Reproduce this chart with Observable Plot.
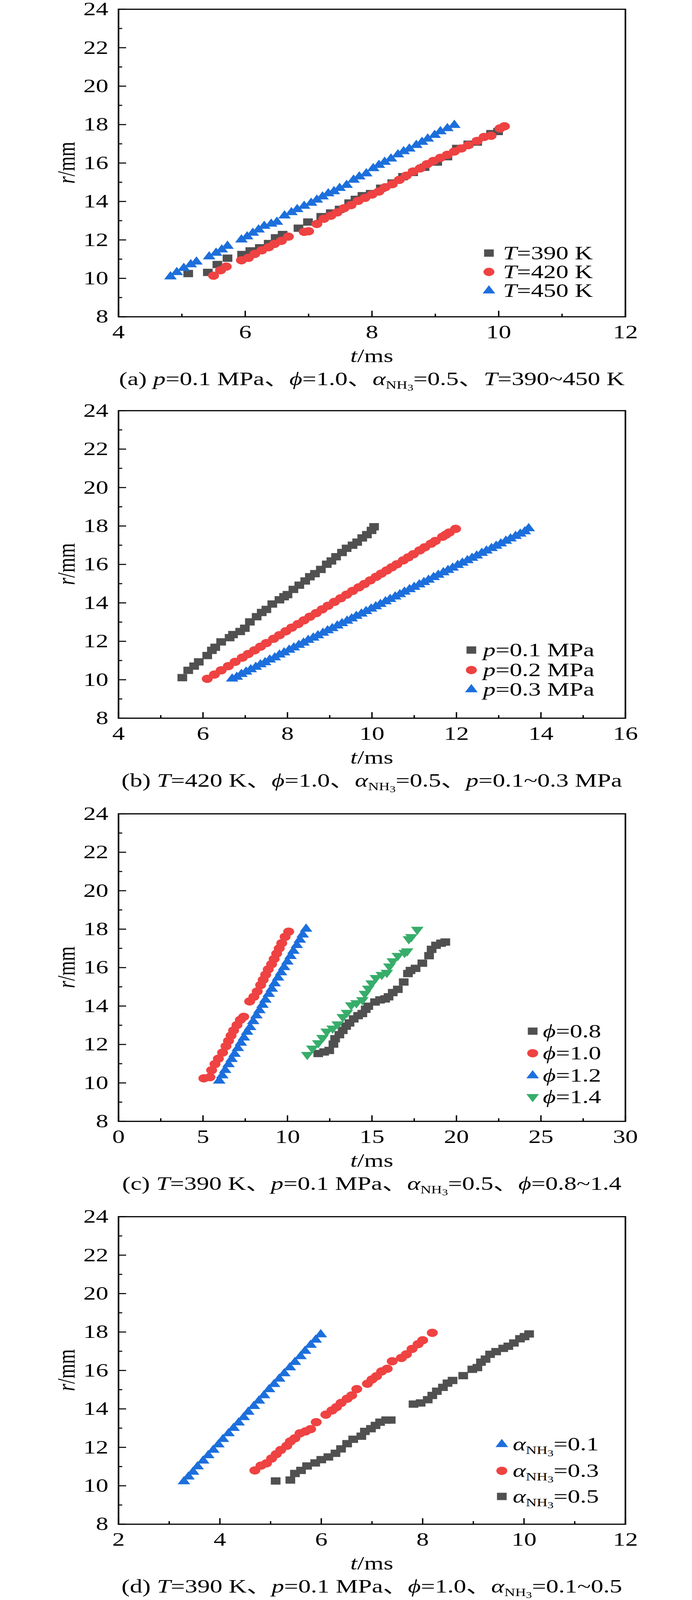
<!DOCTYPE html>
<html><head><meta charset="utf-8">
<script src="https://cdn.jsdelivr.net/npm/d3@7"></script>
<script src="https://cdn.jsdelivr.net/npm/@observablehq/plot@0.6"></script>
<style>
html,body{margin:0;padding:0;background:#fff;overflow:hidden}
body{font-family:"Liberation Serif","Times New Roman","Noto Sans CJK SC",serif;color:#000}
#stage{position:absolute;left:0;top:0;width:1772px;height:5437px;transform-origin:0 0;background:#fff}
.panel{position:absolute;left:0;width:1772px;height:1330px;overflow:visible}
.panel svg.plot{position:absolute;left:0;top:0}
.lbl{position:absolute;font-size:64px;line-height:80px;white-space:nowrap}
.sub1{font-size:0.6em;position:relative;top:0.3em}
.sub2{font-size:0.8em;position:relative;top:0.25em}
.mk{position:absolute;width:40px;height:40px}
</style></head><body><div id="stage"></div><script>
// ---------- axes ----------
const yMajor=[8,10,12,14,16,18,20,22,24];
const yMinor=[9,11,13,15,17,19,21,23];
const aXMajor=[4,6,8,10,12], aXMinor=[5,7,9,11];
const bXMajor=[4,6,8,10,12,14,16], bXMinor=[5,7,9,11,13,15];
const cXMajor=[0,5,10,15,20,25,30], cXMinor=[2.5,7.5,12.5,17.5,22.5,27.5];
const dXMajor=[2,4,6,8,10,12], dXMinor=[3,5,7,9,11];

// ---------- data: [t (ms), r (mm)] ----------
// (a) p=0.1 MPa, phi=1.0, aNH3=0.5
const aT390=[[5.10,10.25],[5.41,10.31],[5.56,10.72],[5.72,11.05],[5.95,11.24],[6.08,11.43],[6.23,11.59],[6.37,11.81],[6.48,12.11],[6.59,12.28],[6.84,12.61],[6.99,12.93],[7.20,13.21],[7.35,13.40],[7.49,13.59],[7.64,13.92],[7.74,14.11],[7.85,14.30],[7.98,14.41],[8.14,14.69],[8.32,14.96],[8.49,15.29],[8.65,15.51],[8.83,15.78],[9.03,16.05],[9.19,16.33],[9.34,16.76],[9.52,16.98],[9.66,17.09],[9.88,17.53],[9.99,17.64]];
const aT420=[[5.50,10.14],[5.61,10.42],[5.70,10.61],[5.94,10.94],[6.05,11.07],[6.15,11.27],[6.26,11.46],[6.37,11.62],[6.46,11.79],[6.57,11.95],[6.68,12.17],[6.93,12.42],[7.00,12.45],[7.13,12.83],[7.24,13.10],[7.35,13.26],[7.45,13.43],[7.56,13.65],[7.67,13.81],[7.78,14.03],[7.89,14.19],[8.00,14.36],[8.11,14.52],[8.21,14.74],[8.32,14.90],[8.43,15.12],[8.54,15.34],[8.65,15.56],[8.76,15.72],[8.87,15.94],[8.97,16.11],[9.08,16.27],[9.19,16.43],[9.30,16.60],[9.41,16.76],[9.52,16.93],[9.66,17.15],[9.77,17.36],[9.88,17.42],[10.02,17.80],[10.09,17.91]];
const aT450=[[4.82,10.09],[4.92,10.31],[5.03,10.53],[5.14,10.72],[5.23,10.86],[5.43,11.13],[5.54,11.32],[5.63,11.49],[5.72,11.68],[5.94,12.01],[6.03,12.17],[6.12,12.36],[6.21,12.53],[6.30,12.72],[6.41,12.83],[6.50,12.93],[6.62,13.26],[6.73,13.43],[6.82,13.59],[6.93,13.76],[7.04,13.92],[7.13,14.08],[7.22,14.25],[7.31,14.41],[7.40,14.52],[7.49,14.69],[7.60,14.85],[7.71,15.12],[7.80,15.29],[7.91,15.45],[8.02,15.72],[8.11,15.89],[8.20,16.05],[8.30,16.22],[8.41,16.44],[8.50,16.60],[8.59,16.74],[8.70,16.93],[8.79,17.09],[8.88,17.26],[8.99,17.45],[9.08,17.64],[9.19,17.80],[9.30,17.97]];
// (b) T=420 K, phi=1.0, aNH3=0.5
const bP01=[[5.51,10.11],[5.65,10.49],[5.79,10.71],[5.90,10.93],[6.10,11.26],[6.21,11.53],[6.29,11.69],[6.43,11.97],[6.63,12.19],[6.71,12.35],[6.88,12.51],[6.99,12.68],[7.11,13.01],[7.27,13.28],[7.39,13.50],[7.50,13.66],[7.64,13.94],[7.81,14.16],[7.92,14.32],[8.00,14.43],[8.14,14.70],[8.28,14.92],[8.42,15.14],[8.53,15.36],[8.65,15.52],[8.79,15.74],[8.93,16.01],[9.04,16.18],[9.15,16.40],[9.29,16.62],[9.40,16.84],[9.54,17.00],[9.65,17.16],[9.77,17.38],[9.88,17.55],[9.99,17.77],[10.05,17.96]];
const bP02=[[6.10,10.05],[6.27,10.27],[6.43,10.49],[6.60,10.71],[6.76,10.93],[6.93,11.15],[7.07,11.34],[7.22,11.53],[7.36,11.72],[7.50,11.91],[7.67,12.13],[7.81,12.32],[7.96,12.52],[8.10,12.71],[8.25,12.90],[8.39,13.09],[8.53,13.28],[8.68,13.47],[8.82,13.66],[8.96,13.85],[9.11,14.05],[9.26,14.24],[9.40,14.43],[9.54,14.62],[9.69,14.81],[9.82,14.98],[9.96,15.17],[10.10,15.36],[10.22,15.52],[10.35,15.69],[10.47,15.85],[10.59,16.01],[10.74,16.21],[10.86,16.37],[10.98,16.53],[11.13,16.73],[11.25,16.89],[11.40,17.08],[11.50,17.22],[11.67,17.44],[11.75,17.55],[11.83,17.66],[11.98,17.85]];
const bP03=[[6.69,10.05],[6.80,10.14],[6.91,10.29],[7.02,10.41],[7.13,10.53],[7.25,10.66],[7.36,10.79],[7.47,10.90],[7.58,11.04],[7.70,11.15],[7.81,11.30],[7.92,11.41],[8.04,11.55],[8.15,11.67],[8.27,11.80],[8.38,11.92],[8.49,12.06],[8.61,12.18],[8.72,12.30],[8.84,12.43],[8.95,12.56],[9.06,12.67],[9.18,12.81],[9.29,12.93],[9.41,13.06],[9.52,13.18],[9.63,13.31],[9.75,13.43],[9.86,13.56],[9.98,13.69],[10.09,13.81],[10.20,13.93],[10.32,14.07],[10.43,14.19],[10.55,14.32],[10.66,14.44],[10.77,14.57],[10.89,14.70],[11.00,14.82],[11.12,14.95],[11.23,15.07],[11.34,15.19],[11.46,15.33],[11.57,15.45],[11.69,15.58],[11.80,15.70],[11.91,15.82],[12.03,15.96],[12.14,16.08],[12.26,16.21],[12.37,16.33],[12.48,16.45],[12.60,16.59],[12.71,16.71],[12.83,16.84],[12.94,16.96],[13.05,17.08],[13.17,17.22],[13.28,17.34],[13.40,17.47],[13.51,17.59],[13.62,17.71],[13.71,17.87]];
// (c) T=390 K, p=0.1 MPa, aNH3=0.5
const cPhi08=[[11.82,11.53],[12.17,11.61],[12.47,11.69],[12.72,12.02],[12.82,12.30],[13.07,12.51],[13.27,12.73],[13.47,12.95],[13.67,13.12],[13.92,13.33],[14.18,13.50],[14.43,13.61],[14.63,13.83],[14.78,13.99],[15.18,14.21],[15.48,14.32],[15.78,14.37],[15.98,14.48],[16.23,14.70],[16.53,14.87],[16.88,15.25],[17.13,15.69],[17.28,15.85],[17.58,15.96],[17.98,16.23],[18.38,16.62],[18.53,16.95],[18.79,17.16],[19.09,17.27],[19.34,17.33]];
const cPhi10=[[5.05,10.24],[5.41,10.30],[5.51,10.66],[5.71,10.98],[5.91,11.26],[6.16,11.58],[6.36,11.91],[6.51,12.19],[6.66,12.46],[6.81,12.73],[7.01,13.01],[7.21,13.28],[7.41,13.44],[7.76,14.24],[8.01,14.48],[8.21,14.76],[8.41,15.09],[8.56,15.36],[8.71,15.63],[8.86,15.91],[9.06,16.18],[9.21,16.45],[9.36,16.73],[9.51,17.00],[9.66,17.27],[9.86,17.60],[10.07,17.87]];
const cPhi12=[[5.96,10.11],[6.14,10.38],[6.31,10.66],[6.51,10.96],[6.69,11.23],[6.87,11.50],[7.06,11.80],[7.24,12.08],[7.42,12.35],[7.61,12.65],[7.79,12.89],[7.97,13.20],[8.16,13.50],[8.34,13.77],[8.52,14.05],[8.69,14.32],[8.89,14.62],[9.07,14.89],[9.24,15.17],[9.44,15.47],[9.62,15.74],[9.80,16.01],[9.99,16.30],[10.18,16.59],[10.35,16.86],[10.55,17.16],[10.73,17.44],[10.90,17.71],[11.10,18.01]];
const cPhi14=[[11.17,11.47],[11.47,11.80],[11.82,12.08],[12.07,12.35],[12.32,12.68],[12.67,12.84],[12.97,13.06],[13.27,13.44],[13.52,13.66],[13.77,14.05],[14.08,14.16],[14.43,14.32],[14.58,14.65],[14.78,14.92],[14.98,15.19],[15.23,15.47],[15.58,15.63],[15.88,15.74],[16.03,16.07],[16.23,16.34],[16.53,16.62],[16.93,16.78],[17.08,16.86],[17.18,17.49],[17.33,17.60],[17.68,17.98]];
// (d) T=390 K, p=0.1 MPa, phi=1.0
const dA01=[[3.29,10.22],[3.38,10.47],[3.47,10.72],[3.56,11.00],[3.67,11.30],[3.77,11.58],[3.87,11.86],[3.97,12.14],[4.06,12.42],[4.17,12.72],[4.27,13.00],[4.37,13.28],[4.47,13.56],[4.56,13.84],[4.67,14.14],[4.77,14.42],[4.87,14.70],[4.97,15.01],[5.07,15.28],[5.17,15.56],[5.27,15.84],[5.38,16.15],[5.48,16.43],[5.59,16.73],[5.68,17.01],[5.79,17.32],[5.89,17.59],[5.99,17.87]];
const dA03=[[4.69,10.80],[4.81,11.05],[4.92,11.17],[5.02,11.42],[5.11,11.64],[5.20,11.86],[5.32,12.08],[5.39,12.31],[5.48,12.47],[5.58,12.73],[5.69,12.83],[5.79,12.95],[5.90,13.31],[6.09,13.70],[6.21,13.92],[6.30,14.09],[6.39,14.31],[6.51,14.53],[6.60,14.70],[6.70,15.03],[6.91,15.31],[7.00,15.53],[7.09,15.70],[7.19,15.95],[7.30,16.09],[7.40,16.48],[7.58,16.65],[7.68,16.84],[7.79,17.12],[7.91,17.37],[8.00,17.57],[8.19,17.96]];
const dA05=[[5.10,10.25],[5.39,10.30],[5.48,10.64],[5.60,10.80],[5.72,11.03],[5.88,11.19],[6.00,11.36],[6.14,11.50],[6.28,11.69],[6.39,11.92],[6.51,12.19],[6.63,12.42],[6.79,12.58],[6.86,12.83],[6.98,12.97],[7.07,13.14],[7.16,13.31],[7.28,13.42],[7.37,13.42],[7.82,14.25],[7.96,14.31],[8.10,14.48],[8.19,14.70],[8.28,14.92],[8.40,15.12],[8.49,15.34],[8.59,15.48],[8.80,15.73],[8.98,16.06],[9.08,16.15],[9.15,16.43],[9.24,16.59],[9.33,16.84],[9.45,16.98],[9.59,17.15],[9.69,17.26],[9.80,17.43],[9.92,17.65],[10.01,17.76],[10.10,17.90]];

// ---------- style ----------
const GRAY="#505050", RED="#EF4242", BLUE="#1C6FDC", GREEN="#37AD6B";
const triangleDown={draw(ctx,size){const y=Math.sqrt(size/(Math.sqrt(3)*3));ctx.moveTo(0,2*y);ctx.lineTo(-Math.sqrt(3)*y,-y);ctx.lineTo(Math.sqrt(3)*y,-y);ctx.closePath();}};
const SYM={square:{sym:"square",d3:d3.symbolSquare,r:14},circle:{sym:"circle",d3:d3.symbolCircle,r:14},triangle:{sym:"triangle",d3:d3.symbolTriangle,r:12},down:{sym:triangleDown,d3:triangleDown,r:12}};
const aNH=(v)=>`<i>α</i><span class="sub1">NH<span class="sub2">3</span></span>=${v}`;

const panels=[
 {top:0,xDomain:[4,12],xMajor:aXMajor,xMinor:aXMinor,
  series:[{data:aT390,s:"square",c:GRAY},{data:aT420,s:"circle",c:RED},{data:aT450,s:"triangle",c:BLUE}],
  legend:{mx:1252,tx:1288,rows:[860,924,988],items:[["square",GRAY,"<i>T</i>=390 K"],["circle",RED,"<i>T</i>=420 K"],["triangle",BLUE,"<i>T</i>=450 K"]]},
  caption:`(a) <i>p</i>=0.1 MPa、<i>ϕ</i>=1.0、${aNH("0.5")}、<i>T</i>=390~450 K`},
 {top:1364,xDomain:[4,16],xMajor:bXMajor,xMinor:bXMinor,
  series:[{data:bP01,s:"square",c:GRAY},{data:bP02,s:"circle",c:RED},{data:bP03,s:"triangle",c:BLUE}],
  legend:{mx:1207,tx:1237,rows:[845,913,979],items:[["square",GRAY,"<i>p</i>=0.1 MPa"],["circle",RED,"<i>p</i>=0.2 MPa"],["triangle",BLUE,"<i>p</i>=0.3 MPa"]]},
  caption:`(b) <i>T</i>=420 K、<i>ϕ</i>=1.0、${aNH("0.5")}、<i>p</i>=0.1~0.3 MPa`},
 {top:2734,xDomain:[0,30],xMajor:cXMajor,xMinor:cXMinor,
  series:[{data:cPhi08,s:"square",c:GRAY},{data:cPhi10,s:"circle",c:RED},{data:cPhi12,s:"triangle",c:BLUE},{data:cPhi14,s:"down",c:GREEN}],
  legend:{mx:1364,tx:1390,rows:[770,845,921,993],items:[["square",GRAY,"<i>ϕ</i>=0.8"],["circle",RED,"<i>ϕ</i>=1.0"],["triangle",BLUE,"<i>ϕ</i>=1.2"],["down",GREEN,"<i>ϕ</i>=1.4"]]},
  caption:`(c) <i>T</i>=390 K、<i>p</i>=0.1 MPa、${aNH("0.5")}、<i>ϕ</i>=0.8~1.4`},
 {top:4103,xDomain:[2,12],xMajor:dXMajor,xMinor:dXMinor,
  series:[{data:dA05,s:"square",c:GRAY},{data:dA03,s:"circle",c:RED},{data:dA01,s:"triangle",c:BLUE}],
  legend:{mx:1285,tx:1313,rows:[805,895,982],items:[["triangle",BLUE,aNH("0.1")],["circle",RED,aNH("0.3")],["square",GRAY,aNH("0.5")]]},
  caption:`(d) <i>T</i>=390 K、<i>p</i>=0.1 MPa、<i>ϕ</i>=1.0、${aNH("0.1~0.5")}`}
];

const W=1772,H=1250,ML=303,MR=171,MT=31,MB=174,PW=W-ML-MR,PH=H-MT-MB;
function makePlot(p){
  const marks=[];
  for(const s of p.series){
    const S=SYM[s.s];
    marks.push(Plot.dot(s.data,{x:d=>d[0],y:d=>d[1],symbol:S.sym,r:S.r,fill:s.c,stroke:"none"}));
  }
  const tk={stroke:"#000",strokeWidth:3.5};
  marks.push(Plot.tickY(yMajor,{y:d=>d,insetRight:PW-20,...tk}));
  marks.push(Plot.tickY(yMinor,{y:d=>d,insetRight:PW-10,...tk}));
  marks.push(Plot.tickX(p.xMajor,{x:d=>d,insetTop:PH-20,...tk}));
  marks.push(Plot.tickX(p.xMinor,{x:d=>d,insetTop:PH-10,...tk}));
  marks.push(Plot.frame({stroke:"#000",strokeWidth:4}));
  marks.push(Plot.axisY({ticks:yMajor,tickSize:0,tickPadding:26,fontSize:64,label:null}));
  marks.push(Plot.axisX({ticks:p.xMajor,tickSize:0,tickPadding:28,fontSize:64,label:null}));
  const svg=Plot.plot({width:W,height:H,marginLeft:ML,marginRight:MR,marginTop:MT,marginBottom:MB,
    x:{domain:p.xDomain},y:{domain:[8,24]},
    style:{fontFamily:'"Liberation Serif","Times New Roman",serif',background:"#fff",color:"#000",overflow:"visible"},
    marks});
  svg.classList.add("plot");
  return svg;
}
function markerSVG(kind,color){
  const S=SYM[kind];
  const path=d3.symbol(S.d3,Math.PI*S.r*S.r)();
  return `<svg width="40" height="40" viewBox="-20 -20 40 40"><path d="${path}" fill="${color}"/></svg>`;
}
const stage=document.getElementById("stage");
// the figure is laid out at 1772x5437; fit it into the actual window height
const vh=window.innerHeight||5437;
const sy=Math.min(1,vh/5437);
stage.style.transform=`scale(1,${sy})`;
for(const p of panels){
  const div=document.createElement("div");div.className="panel";
  div.style.top=p.top+"px";
  div.appendChild(makePlot(p));
  const xl=document.createElement("div");xl.className="lbl";
  Object.assign(xl.style,{left:ML+"px",width:PW+"px",textAlign:"center",top:"1170px"});
  xl.innerHTML="<i>t</i>/ms";div.appendChild(xl);
  const yl=document.createElement("div");yl.className="lbl";
  Object.assign(yl.style,{left:"170px",top:"553px",transform:"translate(-50%,-50%) rotate(-90deg)"});
  yl.innerHTML="<i>r</i>/mm";div.appendChild(yl);
  p.legend.items.forEach(([kind,color,label],i)=>{
    const y=p.legend.rows[i];
    const m=document.createElement("div");m.className="mk";
    Object.assign(m.style,{left:(p.legend.mx-20)+"px",top:(y-20)+"px"});
    m.innerHTML=markerSVG(kind,color);div.appendChild(m);
    const t=document.createElement("div");t.className="lbl";
    Object.assign(t.style,{left:p.legend.tx+"px",top:(y-40)+"px"});
    t.innerHTML=label;div.appendChild(t);
  });
  const cap=document.createElement("div");cap.className="lbl";
  Object.assign(cap.style,{left:(ML-200)+"px",width:(PW+400)+"px",textAlign:"center",top:"1248px"});
  cap.innerHTML=p.caption;div.appendChild(cap);
  stage.appendChild(div);
}
</script></body></html>
